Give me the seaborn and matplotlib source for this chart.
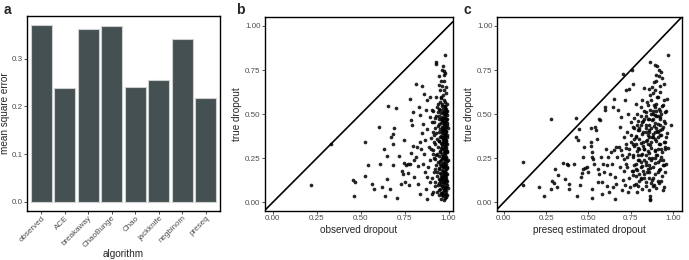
import matplotlib
matplotlib.use("Agg")
import matplotlib.pyplot as plt
import seaborn as sns
import pandas as pd
import numpy as np

sns.set_theme(style="white")
plt.rcParams['font.family'] = ['Liberation Sans', 'DejaVu Sans']

# ---- data ----
algorithms = ["observed", "ACE", "breakaway", "ChaoBunge", "Chao", "jackknife", "negbinom", "preseq"]
mse = [0.371, 0.238, 0.363, 0.370, 0.240, 0.255, 0.341, 0.217]

obs_pts = [
    (0.218,0.096),(0.332,0.329),(0.463,0.034),(0.455,0.129),(0.465,0.115),(0.522,0.342),(0.526,0.149),
    (0.539,0.214),(0.564,0.104),(0.573,0.074),(0.605,0.425),(0.609,0.219),(0.624,0.087),(0.630,0.300),
    (0.636,0.038),(0.649,0.132),(0.649,0.263),(0.658,0.544),(0.664,0.076),(0.674,0.371),(0.681,0.389),
    (0.685,0.333),(0.689,0.423),(0.683,0.212),(0.700,0.537),(0.706,0.026),(0.717,0.265),(0.729,0.106),
    (0.736,0.176),(0.740,0.161),(0.744,0.225),(0.748,0.352),(0.753,0.115),(0.759,0.212),(0.767,0.216),
    (0.770,0.166),(0.774,0.096),(0.778,0.588),(0.782,0.216),(0.786,0.280),(0.789,0.465),(0.793,0.437),
    (0.797,0.514),(0.797,0.318),(0.805,0.144),(0.806,0.242),(0.812,0.671),(0.814,0.257),(0.820,0.314),
    (0.824,0.106),(0.827,0.208),(0.831,0.541),(0.835,0.493),(0.837,0.342),(0.839,0.049),(0.843,0.300),
    (0.846,0.658),(0.848,0.393),(0.852,0.446),(0.854,0.219),(0.858,0.616),(0.862,0.276),(0.863,0.172),
    (0.867,0.352),(0.869,0.522),(0.873,0.078),(0.875,0.578),(0.877,0.144),(0.879,0.019),(0.880,0.418),
    (0.884,0.200),(0.888,0.314),(0.892,0.597),(0.892,0.484),(0.896,0.238),(0.896,0.115),(0.901,0.367),
    (0.903,0.525),(0.907,0.049),(0.909,0.276),
    (0.981,0.837),(0.928,0.796),(0.928,0.783),(0.966,0.771),(0.973,0.743),(0.979,0.735),(0.945,0.715),
    (0.958,0.686),(0.943,0.667),(0.975,0.688),(0.952,0.639),(0.971,0.635),(0.926,0.597),(0.958,0.597),
    (0.973,0.578),(0.950,0.569),(0.935,0.541),(0.962,0.548),(0.981,0.545),(0.948,0.531),(0.966,0.527),
    (0.985,0.520),(0.940,0.512),(0.957,0.505),(0.975,0.500),(0.989,0.495),(0.930,0.490),(0.962,0.486),
    (0.980,0.478),(0.948,0.470),(0.970,0.466),(0.986,0.460),(0.918,0.455),(0.955,0.450),(0.976,0.446),
    (0.990,0.440),(0.940,0.435),(0.965,0.430),(0.983,0.425),(0.925,0.420),(0.952,0.415),(0.972,0.410),
    (0.988,0.405),(0.945,0.398),(0.962,0.393),(0.980,0.388),(0.915,0.383),(0.955,0.378),(0.975,0.373),
    (0.990,0.368),(0.935,0.362),(0.968,0.357),(0.984,0.352),(0.948,0.346),(0.972,0.341),(0.988,0.336),
    (0.925,0.330),(0.960,0.325),(0.979,0.320),(0.942,0.314),(0.966,0.309),(0.985,0.303),(0.912,0.298),
    (0.953,0.293),(0.975,0.288),(0.990,0.283),(0.936,0.277),(0.962,0.272),(0.982,0.266),(0.947,0.261),
    (0.970,0.256),(0.987,0.250),(0.922,0.245),(0.958,0.240),(0.978,0.234),(0.940,0.229),(0.966,0.223),
    (0.984,0.218),(0.930,0.212),(0.954,0.207),(0.974,0.201),(0.989,0.196),(0.944,0.190),(0.963,0.185),
    (0.981,0.179),(0.918,0.174),(0.950,0.168),(0.971,0.163),(0.987,0.157),(0.935,0.152),(0.960,0.146),
    (0.979,0.141),(0.945,0.135),(0.968,0.130),(0.985,0.124),(0.925,0.118),(0.955,0.113),(0.975,0.107),
    (0.990,0.101),(0.940,0.096),(0.964,0.090),(0.982,0.084),(0.950,0.078),(0.972,0.072),(0.987,0.066),
    (0.932,0.060),(0.960,0.054),(0.978,0.048),(0.945,0.042),(0.968,0.036),(0.985,0.030),(0.958,0.018),
    (0.975,0.012),
    (0.977,0.545),(0.983,0.530),(0.971,0.515),(0.986,0.505),(0.978,0.490),(0.969,0.480),(0.984,0.470),
    (0.976,0.455),(0.989,0.448),(0.972,0.438),(0.981,0.420),(0.968,0.412),(0.986,0.398),(0.974,0.385),
    (0.982,0.375),(0.970,0.362),(0.988,0.350),(0.977,0.338),(0.965,0.330),(0.983,0.315),(0.973,0.300),
    (0.987,0.292),(0.978,0.278),(0.968,0.265),(0.984,0.258),(0.975,0.245),(0.989,0.235),(0.971,0.225),
    (0.981,0.212),(0.967,0.200),(0.986,0.190),(0.976,0.175),(0.983,0.165),(0.970,0.150),(0.988,0.140),
    (0.977,0.128),(0.966,0.118),(0.984,0.110),(0.974,0.095),(0.987,0.085),(0.980,0.070),(0.969,0.060),
    (0.985,0.045),
    (0.952,0.525),(0.958,0.470),(0.947,0.445),(0.960,0.405),(0.951,0.370),(0.944,0.350),(0.957,0.310),
    (0.949,0.285),(0.961,0.250),(0.953,0.220),(0.946,0.195),(0.959,0.160),(0.951,0.125),(0.957,0.100),
    (0.948,0.070),
    (0.905,0.455),(0.912,0.520),(0.918,0.340),(0.902,0.300),(0.915,0.250),(0.921,0.190),(0.908,0.140),
    (0.925,0.090),(0.913,0.060),(0.930,0.395),(0.927,0.268),(0.934,0.170),(0.920,0.480),(0.938,0.555),
    (0.910,0.400),
    (0.991,0.56),(0.993,0.52),(0.992,0.47),(0.994,0.42),(0.991,0.38),(0.993,0.33),(0.992,0.29),
    (0.994,0.24),(0.991,0.20),(0.993,0.16),(0.992,0.12),(0.994,0.08),(0.991,0.04),
    (0.963,0.56),(0.967,0.51),(0.961,0.46),(0.966,0.42),(0.962,0.37),(0.967,0.34),(0.961,0.30),
    (0.966,0.26),(0.962,0.21),(0.967,0.17),(0.961,0.13),(0.966,0.08),(0.962,0.04),
    (0.979,0.57),(0.982,0.535),(0.979,0.505),(0.982,0.455),(0.979,0.405),(0.982,0.365),(0.979,0.325),
    (0.982,0.285),(0.979,0.250),(0.982,0.205),(0.979,0.160),(0.982,0.120),(0.979,0.080),(0.982,0.025),
    (0.954,0.59),(0.947,0.49),(0.955,0.335),(0.949,0.235),(0.956,0.145),(0.946,0.110),(0.954,0.055),
    (0.970,0.61),(0.986,0.62),(0.965,0.66),(0.983,0.655),(0.975,0.72),(0.962,0.75),
]

preseq_pts = [
    (0.113,0.231),(0.113,0.096),(0.205,0.087),(0.239,0.034),(0.276,0.473),(0.278,0.076),(0.285,0.123),
    (0.295,0.110),(0.301,0.191),(0.312,0.087),(0.320,0.153),(0.351,0.223),(0.360,0.132),(0.372,0.216),
    (0.379,0.210),(0.383,0.076),(0.383,0.106),(0.412,0.219),(0.425,0.480),(0.429,0.371),(0.435,0.036),
    (0.439,0.352),(0.444,0.416),(0.450,0.096),(0.454,0.144),(0.462,0.166),(0.466,0.191),(0.469,0.257),
    (0.473,0.312),(0.477,0.195),(0.489,0.200),(0.498,0.174),(0.515,0.423),(0.515,0.340),(0.517,0.319),
    (0.519,0.285),(0.521,0.257),(0.519,0.078),(0.521,0.025),(0.527,0.248),(0.533,0.219),(0.536,0.427),
    (0.544,0.408),(0.550,0.361),(0.554,0.115),(0.559,0.191),(0.565,0.163),(0.563,0.474),(0.569,0.465),
    (0.573,0.257),(0.579,0.115),(0.582,0.049),(0.588,0.219),(0.594,0.172),(0.598,0.541),(0.600,0.525),
    (0.603,0.304),(0.607,0.210),(0.611,0.091),(0.617,0.257),(0.623,0.059),(0.626,0.163),(0.632,0.285),
    (0.636,0.219),(0.642,0.087),(0.646,0.541),(0.648,0.588),(0.651,0.295),(0.655,0.144),(0.659,0.019),
    (0.661,0.314),(0.665,0.106),(0.670,0.257),(0.676,0.522),(0.680,0.314),(0.684,0.200),(0.688,0.427),
    (0.690,0.484),(0.693,0.295),(0.699,0.072),(0.703,0.730),(0.703,0.125),(0.707,0.371),(0.711,0.248),
    (0.713,0.096),(0.716,0.578),(0.722,0.639),(0.724,0.333),(0.728,0.399),(0.730,0.200),(0.732,0.059),
    (0.736,0.503),(0.738,0.645),(0.741,0.276),(0.745,0.087),(0.749,0.456),(0.751,0.342),(0.755,0.176),
    (0.757,0.749),(0.761,0.673),(0.762,0.427),
    (0.971,0.837),(0.862,0.796),(0.895,0.781),(0.904,0.771),(0.914,0.749),(0.900,0.720),(0.918,0.715),
    (0.933,0.707),(0.885,0.682),(0.948,0.673),(0.875,0.654),(0.829,0.648),(0.895,0.635),(0.923,0.626),
    (0.866,0.610),(0.962,0.584),(0.904,0.597),(0.943,0.578),(0.818,0.578),(0.847,0.569),(0.780,0.560),
    (0.885,0.550),(0.933,0.544),(0.810,0.541),(0.914,0.531),(0.866,0.522),(0.839,0.512),(0.952,0.512),
    (0.789,0.503),(0.895,0.493),(0.923,0.484),(0.770,0.480),(0.852,0.474),(0.875,0.465),(0.943,0.459),
    (0.818,0.456),(0.910,0.446),(0.989,0.440),(0.789,0.437),(0.885,0.431),(0.839,0.423),(0.933,0.418),
    (0.800,0.412),(0.904,0.405),(0.856,0.399),(0.962,0.393),(0.818,0.386),(0.923,0.380),(0.780,0.374),
    (0.875,0.371),(0.895,0.361),(0.847,0.352),(0.943,0.342),(0.808,0.336),(0.914,0.329),(0.866,0.323),
    (0.770,0.318),(0.952,0.314),(0.827,0.304),(0.895,0.299),(0.789,0.291),(0.933,0.285),(0.856,0.280),
    (0.818,0.272),(0.904,0.267),(0.761,0.257),(0.875,0.253),(0.923,0.242),(0.799,0.238),(0.837,0.229),
    (0.895,0.223),(0.780,0.219),(0.943,0.210),(0.818,0.204),(0.866,0.195),(0.914,0.185),(0.789,0.181),
    (0.847,0.172),(0.895,0.163),(0.761,0.153),(0.933,0.147),(0.810,0.140),(0.875,0.129),(0.837,0.115),
    (0.914,0.110),(0.780,0.102),(0.885,0.096),(0.943,0.087),(0.818,0.078),(0.856,0.068),(0.789,0.059),
    (0.866,0.034),(0.866,0.011),(0.862,0.021),
    (0.78,0.33),(0.80,0.36),(0.82,0.40),(0.84,0.44),(0.86,0.47),(0.88,0.50),(0.90,0.52),(0.92,0.47),
    (0.94,0.43),(0.91,0.40),(0.88,0.37),(0.85,0.33),(0.83,0.30),(0.81,0.27),(0.79,0.24),(0.77,0.21),
    (0.76,0.18),(0.78,0.15),(0.80,0.12),(0.83,0.14),(0.86,0.17),(0.88,0.20),(0.91,0.23),(0.93,0.26),
    (0.95,0.30),(0.92,0.33),(0.89,0.29),(0.86,0.25),(0.84,0.21),(0.82,0.18),(0.87,0.11),(0.90,0.08),
    (0.93,0.12),(0.95,0.17),(0.94,0.21),(0.96,0.37),(0.95,0.45),(0.93,0.50),(0.90,0.56),(0.87,0.58),
    (0.85,0.55),(0.83,0.52),(0.81,0.49),(0.79,0.46),(0.77,0.42),(0.75,0.38),(0.74,0.30),(0.76,0.27),
    (0.79,0.31),(0.82,0.34),(0.85,0.38),(0.87,0.42),(0.89,0.45),(0.92,0.41),(0.90,0.35),(0.87,0.31),
    (0.84,0.27),(0.81,0.23),(0.78,0.19),(0.80,0.16),(0.84,0.09),(0.88,0.14),(0.91,0.17),(0.94,0.07),
    (0.86,0.41),(0.82,0.46),(0.80,0.42),(0.88,0.52),(0.91,0.49),(0.93,0.38),(0.91,0.30),(0.89,0.25),
    (0.86,0.21),(0.84,0.49),(0.78,0.37),(0.76,0.33),(0.73,0.26),(0.72,0.22),(0.71,0.18),(0.74,0.14),
    (0.77,0.10),(0.72,0.31),(0.70,0.27),
    (0.80,0.30),(0.82,0.32),(0.84,0.35),(0.86,0.37),(0.88,0.39),(0.90,0.42),(0.92,0.44),(0.84,0.40),
    (0.86,0.44),(0.88,0.47),(0.90,0.49),(0.92,0.52),(0.89,0.54),(0.87,0.50),(0.83,0.47),(0.81,0.44),
    (0.79,0.41),(0.77,0.36),(0.79,0.27),(0.81,0.20),(0.83,0.24),(0.85,0.29),(0.87,0.34),(0.89,0.40),
    (0.91,0.37),(0.93,0.30),(0.90,0.27),(0.87,0.24),(0.85,0.19),(0.83,0.16),(0.81,0.13),(0.79,0.09),
    (0.86,0.14),(0.88,0.09),(0.91,0.12),(0.92,0.19),(0.94,0.24),(0.95,0.34),(0.94,0.55),(0.91,0.60),
    (0.88,0.62),(0.86,0.64),(0.92,0.66),(0.90,0.69),(0.93,0.74),(0.96,0.52),(0.97,0.31),(0.96,0.22),
]

df_bar = pd.DataFrame({"algorithm": algorithms, "mse": mse})
df_b = pd.DataFrame(obs_pts, columns=["observed", "true"])
df_c = pd.DataFrame(preseq_pts, columns=["preseq", "true"])

W, H = 689, 260
fig = plt.figure(figsize=(W / 100, H / 100), dpi=100)

def ax_at(x0, y0, x1, y1):
    return fig.add_axes([x0 / W, 1 - y1 / H, (x1 - x0) / W, (y1 - y0) / H])

tick_col = "#4d4d4d"
tick_fs = 5.8
lab_fs = 7.2

def style(ax):
    for s in ax.spines.values():
        s.set_visible(True)
        s.set_color("black")
        s.set_linewidth(1.0)
    ax.tick_params(axis="both", which="both", direction="out", length=2.2, width=0.6,
                   color="#333333", labelsize=tick_fs, labelcolor=tick_col, pad=1.0,
                   bottom=True, left=True)
    ax.grid(False)

# ---- panel a ----
axa = ax_at(27, 16, 220, 211)
sns.barplot(data=df_bar, x="algorithm", y="mse", ax=axa, color="#455052",
            width=0.9, edgecolor="#d0d0d0", linewidth=0.8, saturation=1)
axa.set_xlim(-0.6, 7.6)
axa.set_ylim(-0.0195, 0.39)
axa.set_yticks([0.0, 0.1, 0.2, 0.3])
axa.set_yticklabels(["0.0", "0.1", "0.2", "0.3"])
axa.set_xlabel("algorithm", fontsize=lab_fs, labelpad=0)
axa.set_ylabel("mean square error", fontsize=lab_fs)
axa.yaxis.set_label_coords(-0.09, 0.5)
style(axa)
axa.tick_params(axis="x", pad=0.5)
for lab in axa.get_xticklabels():
    lab.set_rotation(45)
    lab.set_ha("right")
    lab.set_va("top")
    lab.set_rotation_mode("anchor")

# ---- panel b ----
axb = ax_at(265, 17, 453, 211)
sns.scatterplot(data=df_b, x="observed", y="true", ax=axb, color="black", s=7,
                linewidth=0, alpha=0.85)
axb.axline((0, 0), slope=1, color="black", lw=1.2)
axb.set_xlim(-0.044, 1.025)
axb.set_ylim(-0.049, 1.051)
ticks = [0, 0.25, 0.5, 0.75, 1.0]
tl = ["0.00", "0.25", "0.50", "0.75", "1.00"]
axb.set_xticks(ticks); axb.set_xticklabels(tl)
axb.set_yticks(ticks); axb.set_yticklabels(tl)
axb.set_xlabel("observed dropout", fontsize=lab_fs, labelpad=2)
axb.set_ylabel("true dropout", fontsize=lab_fs, labelpad=2)
style(axb)

# ---- panel c ----
axc = ax_at(497, 17, 682, 211)
sns.scatterplot(data=df_c, x="preseq", y="true", ax=axc, color="black", s=7,
                linewidth=0, alpha=0.85)
axc.axline((0, 0), slope=1, color="black", lw=1.2)
axc.set_xlim(-0.040, 1.052)
axc.set_ylim(-0.049, 1.051)
axc.set_xticks(ticks); axc.set_xticklabels(tl)
axc.set_yticks(ticks); axc.set_yticklabels(tl)
axc.set_xlabel("preseq estimated dropout", fontsize=lab_fs, labelpad=2)
axc.set_ylabel("true dropout", fontsize=lab_fs, labelpad=2)
style(axc)

for lbl, x in [("a", 4), ("b", 236), ("c", 464)]:
    fig.text(x / W, 1 - 3 / H, lbl, fontsize=10, fontweight="bold", va="top", ha="left")

fig.savefig("out.png", dpi=100)
